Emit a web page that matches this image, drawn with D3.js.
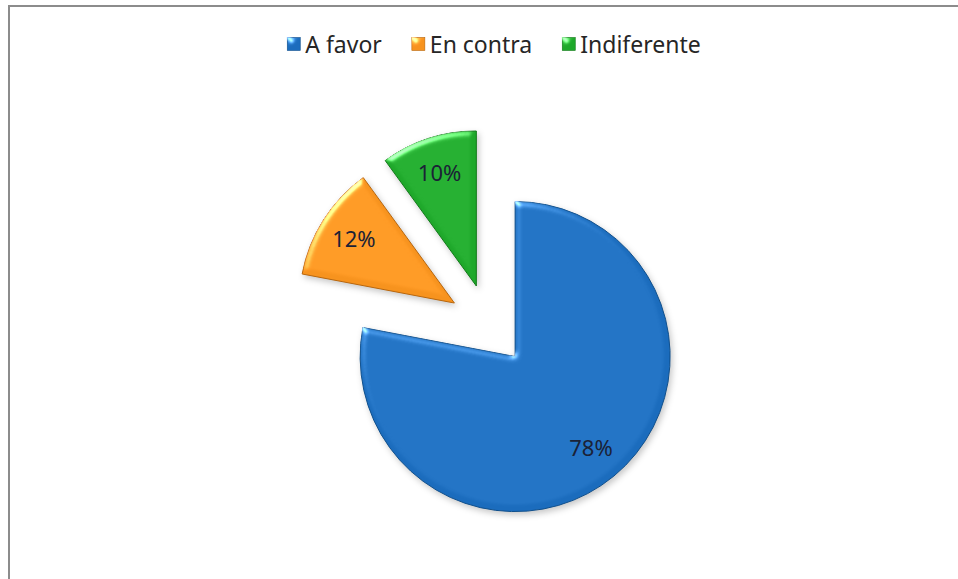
<!DOCTYPE html>
<html>
<head>
<meta charset="utf-8">
<script src="https://cdn.jsdelivr.net/npm/d3@7"></script>
<style>
  body { margin: 0; background: #fff; }
  svg { display: block; font-family: "Noto Sans", "Open Sans", sans-serif; }
</style>
</head>
<body>
<svg id="chart" width="958" height="579"></svg>
<script>
// data
var categories = ["A favor", "En contra", "Indiferente"];
var values = [78, 12, 10];
var colors = ["#1b6cbd", "#f7931e", "#1ea82a"];
var edgeColors = ["#0f4f8c", "#b8660c", "#117a18"];

var W = 958, H = 579;
var cx = 489, cy = 325, radius = 155, explode = 41;

var svg = d3.select("#chart");

// chart area border (only top and left visible)
svg.append("rect")
  .attr("x", 9).attr("y", 6)
  .attr("width", W + 20).attr("height", H + 20)
  .attr("fill", "#fff")
  .attr("stroke", "#8c8c8c")
  .attr("stroke-width", 2);

// filters: bevel + shadow
var defs = svg.append("defs");

var sh = defs.append("filter").attr("id", "shadow")
  .attr("color-interpolation-filters", "sRGB")
  .attr("x", "-20%").attr("y", "-20%").attr("width", "140%").attr("height", "140%");
sh.append("feDropShadow")
  .attr("dx", 2).attr("dy", 3).attr("stdDeviation", 3)
  .attr("flood-color", "#000").attr("flood-opacity", 0.22);

var bv = defs.append("filter").attr("id", "bevel")
  .attr("color-interpolation-filters", "sRGB")
  .attr("x", "-10%").attr("y", "-10%").attr("width", "120%").attr("height", "120%");
bv.append("feGaussianBlur").attr("in", "SourceAlpha").attr("stdDeviation", 3).attr("result", "blur");
var spec = bv.append("feSpecularLighting")
  .attr("in", "blur").attr("surfaceScale", 3)
  .attr("specularConstant", 0.6).attr("specularExponent", 20)
  .attr("lighting-color", "#ffffff").attr("result", "spec");
spec.append("feDistantLight").attr("azimuth", 235).attr("elevation", 30);
bv.append("feComposite").attr("in", "spec").attr("in2", "SourceAlpha")
  .attr("operator", "in").attr("result", "specIn");
bv.append("feComposite").attr("in", "SourceGraphic").attr("in2", "specIn")
  .attr("operator", "arithmetic")
  .attr("k1", 0).attr("k2", 1).attr("k3", 1).attr("k4", 0);

// pie
var pie = d3.pie().sort(null).value(function(d) { return d; });
var arcs = pie(values);

var arc = d3.arc().innerRadius(0).outerRadius(radius);
var labelArc = d3.arc().innerRadius(119).outerRadius(119);

function offset(d) {
  var mid = (d.startAngle + d.endAngle) / 2;
  return [explode * Math.sin(mid), -explode * Math.cos(mid)];
}

var g = svg.append("g")
  .attr("transform", "translate(" + cx + "," + cy + ")")
  .attr("filter", "url(#shadow)");

var slices = g.selectAll("g.slice")
  .data(arcs)
  .enter().append("g")
  .attr("class", "slice")
  .attr("transform", function(d) {
    var o = offset(d);
    return "translate(" + o[0] + "," + o[1] + ")";
  });

slices.append("path")
  .attr("d", arc)
  .attr("fill", function(d, i) { return colors[i]; })
  .attr("stroke", function(d, i) { return edgeColors[i]; })
  .attr("stroke-width", 1)
  .attr("stroke-linejoin", "round")
  .attr("filter", "url(#bevel)");

// data labels
var labels = svg.append("g")
  .attr("transform", "translate(" + cx + "," + cy + ")");

labels.selectAll("text")
  .data(arcs)
  .enter().append("text")
  .attr("transform", function(d) {
    var c = labelArc.centroid(d), o = offset(d);
    return "translate(" + (c[0] + o[0]) + "," + (c[1] + o[1]) + ")";
  })
  .attr("text-anchor", "middle")
  .attr("dy", "0.35em")
  .style("font-size", "22px")
  .style("fill", "#1b2236")
  .text(function(d) { return d.value + "%"; });

// legend
var legend = svg.append("g");
var lx = 0, gap = 30, box = 13, pad = 5;
var items = legend.selectAll("g")
  .data(categories)
  .enter().append("g");

items.append("rect")
  .attr("width", box).attr("height", box)
  .attr("y", -box / 2 - 1)
  .attr("fill", function(d, i) { return colors[i]; })
  .attr("stroke", function(d, i) { return edgeColors[i]; })
  .attr("stroke-width", 0.6)
  .attr("filter", "url(#bevel)");

items.append("text")
  .attr("x", box + pad)
  .attr("dy", "0.35em")
  .style("font-size", "23px")
  .style("fill", "#262626")
  .text(function(d) { return d; });

items.each(function() {
  var t = d3.select(this).select("text").node().getComputedTextLength();
  d3.select(this).attr("transform", "translate(" + lx + ",0)");
  lx += box + pad + t + gap;
});
var legendW = lx - gap;
legend.attr("transform", "translate(" + (494 - legendW / 2) + ",45)");
</script>
</body>
</html>
